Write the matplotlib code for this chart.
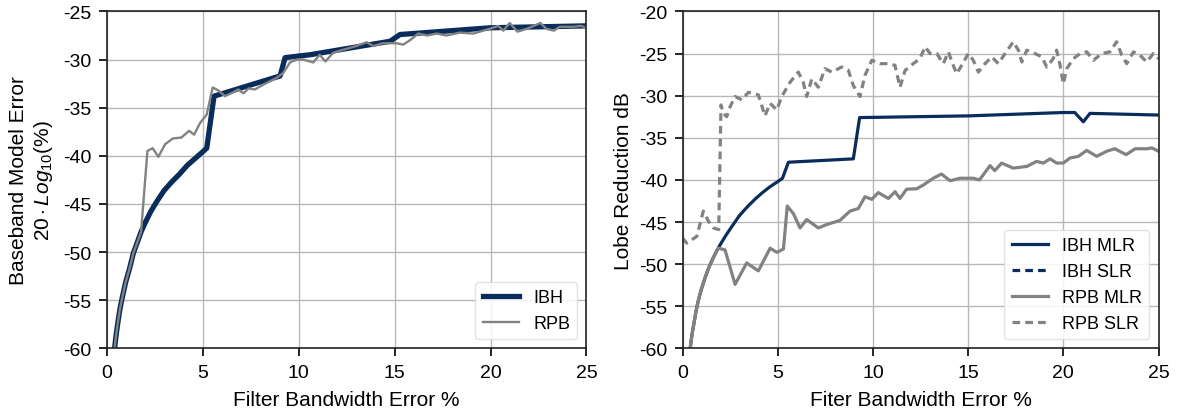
import numpy as np
import matplotlib
matplotlib.use('Agg')
import matplotlib.pyplot as plt

plt.rcParams['font.family'] = ['Liberation Sans', 'DejaVu Sans']
plt.rcParams['mathtext.fontset'] = 'custom'
plt.rcParams['mathtext.rm'] = 'Liberation Sans'
plt.rcParams['mathtext.it'] = 'Liberation Sans:italic'
plt.rcParams['axes.unicode_minus'] = False
plt.rcParams['lines.dashed_pattern'] = (2.4, 1.6)

navy = '#0a2c5a'
grey = '#828282'

# baseband model error (dB) vs filter bandwidth error (%)
ibh_x = [0.42, 0.5, 0.6, 0.7, 0.8, 0.9, 1.0, 1.2, 1.4, 1.6, 1.8, 2.0, 2.3, 2.6, 3.0, 3.4, 3.8, 4.2, 4.6, 5.0, 5.22,
         5.6, 9.04, 9.3, 10.6, 14.77, 15.29, 19.97, 25.0]
ibh_y = [-60, -58.6, -57.2, -55.9, -54.9, -54.0, -53.1, -51.7, -50.1, -49.0, -47.9, -47.0, -45.8, -44.8, -43.6,
         -42.7, -41.9, -41.0, -40.3, -39.6, -39.2, -33.8, -31.7, -29.8, -29.5, -28.1, -27.4, -26.7, -26.5]

rpb_x = [0.42, 0.5, 0.6, 0.7, 0.8, 0.9, 1.0, 1.2, 1.4, 1.6, 1.8, 2.13, 2.4, 2.7, 3.05, 3.45, 3.9, 4.3, 4.56, 4.87,
         5.22, 5.53, 5.82, 6.17, 6.6, 6.86, 7.13, 7.4, 7.73, 8.17, 8.86, 9.2, 9.56, 9.9, 10.25, 10.77, 11.1, 11.4,
         11.8, 12.3, 13.0, 13.55, 13.9, 14.4, 15.1, 15.45, 15.8, 16.24, 16.7, 17.2, 17.7, 18.4, 19.1, 19.97, 20.4,
         20.67, 21.0, 21.4, 21.9, 22.6, 22.9, 23.3, 23.6, 24.3, 24.7, 25.0]
rpb_y = [-60, -58.6, -57.2, -55.9, -54.9, -54.0, -53.1, -51.7, -50.1, -49.0, -47.9, -39.5, -39.2, -40.1, -38.8,
         -38.2, -38.1, -37.4, -37.8, -36.6, -35.7, -32.9, -33.2, -33.8, -33.4, -33.1, -33.5, -33.0, -33.1, -32.6,
         -31.9, -31.4, -30.3, -30.0, -30.0, -30.3, -29.5, -30.2, -29.3, -29.0, -28.6, -28.2, -28.6, -28.3, -28.3,
         -28.45, -28.0, -27.3, -27.5, -27.3, -27.5, -27.2, -27.3, -26.8, -26.5, -27.0, -26.2, -27.1, -26.8, -26.2,
         -26.8, -27.0, -26.6, -26.6, -26.5, -26.7]

# lobe reduction (dB)
ibh_mlr_x = [0.4, 0.5, 0.6, 0.7, 0.8, 0.9, 1.0, 1.2, 1.4, 1.6, 1.8, 2.0, 2.3, 2.6, 3.0, 3.4, 3.8, 4.2, 4.6, 5.0,
             5.25, 5.56, 8.97, 9.3, 15.0, 20.0, 20.6, 21.05, 21.4, 25.0]
ibh_mlr_y = [-60, -58.3, -57.0, -55.7, -54.6, -53.7, -52.9, -51.5, -50.3, -49.3, -48.4, -47.6, -46.5, -45.5,
             -44.2, -43.2, -42.3, -41.5, -40.8, -40.2, -39.8, -37.9, -37.5, -32.6, -32.4, -32.0, -32.0, -33.1,
             -32.1, -32.3]

# IBH has no sidelobes inside the plotted range
ibh_slr_x = []
ibh_slr_y = []

rpb_mlr_x = [0.4, 0.5, 0.6, 0.7, 0.8, 0.9, 1.0, 1.2, 1.4, 1.6, 1.88, 2.23, 2.76, 3.37, 3.98, 4.6, 4.95, 5.3, 5.5,
             5.82, 6.17, 6.52, 7.13, 7.57, 8.27, 8.8, 9.23, 9.58, 9.94, 10.28, 10.81, 11.16, 11.42, 11.77, 12.3,
             12.65, 13.17, 13.6, 14.05, 14.57, 15.27, 15.6, 16.15, 16.4, 16.76, 17.37, 18.08, 18.6, 18.95, 19.3,
             19.65, 20.0, 20.35, 20.79, 21.23, 21.75, 22.28, 22.7, 23.3, 23.77, 24.4, 24.65, 25.0]
rpb_mlr_y = [-60, -58.3, -57.0, -55.7, -54.6, -53.7, -52.9, -51.5, -50.3, -49.3, -48.1, -48.3, -52.4, -49.85,
             -50.8, -48.1, -48.6, -48.2, -43.1, -44.0, -45.7, -44.7, -45.7, -45.3, -44.8, -43.7, -43.4, -42.0,
             -42.3, -41.5, -42.2, -41.4, -42.2, -41.1, -41.05, -40.6, -39.8, -39.3, -40.1, -39.8, -39.8, -40.0,
             -38.3, -38.9, -38.0, -38.6, -38.4, -37.8, -38.0, -37.5, -38.0, -38.0, -37.4, -37.2, -36.5, -37.2,
             -36.6, -36.3, -37.0, -36.3, -36.3, -36.2, -36.6]

rpb_slr_x = [0.0, 0.22, 0.75, 1.09, 1.36, 1.62, 1.9, 2.02, 2.14, 2.32, 2.5, 2.76, 3.11, 3.46, 3.98, 4.33, 4.6,
             4.95, 5.21, 5.65, 6.08, 6.34, 6.52, 6.79, 7.13, 7.48, 7.84, 8.36, 8.71, 8.97, 9.32, 9.58, 9.94, 10.37,
             10.81, 11.16, 11.42, 11.69, 12.12, 12.47, 12.74, 13.0, 13.35, 13.7, 13.96, 14.22, 14.4, 14.66, 15.01,
             15.27, 15.54, 15.89, 16.24, 16.59, 16.94, 17.37, 17.64, 17.82, 18.08, 18.51, 18.87, 19.13, 19.47,
             19.65, 19.83, 20.0, 20.18, 20.53, 20.88, 21.23, 21.58, 22.02, 22.45, 22.8, 23.07, 23.33, 23.68, 24.03,
             24.38, 24.73, 25.0]
rpb_slr_y = [-46.9, -47.5, -46.7, -43.7, -44.9, -45.7, -45.9, -31.1, -32.1, -32.5, -31.3, -30.1, -30.5, -29.6,
             -29.9, -32.4, -30.9, -31.7, -30.1, -28.4, -27.2, -28.4, -30.1, -28.0, -29.0, -26.8, -27.2, -26.6,
             -27.0, -28.8, -30.1, -27.6, -25.8, -26.2, -26.2, -26.4, -29.0, -27.0, -26.2, -25.6, -24.2, -25.0,
             -25.0, -26.2, -24.8, -26.4, -27.4, -26.4, -25.0, -25.8, -27.2, -26.2, -25.4, -26.2, -25.0, -23.6,
             -24.6, -26.0, -24.6, -25.0, -25.4, -26.6, -25.6, -24.6, -26.4, -28.6, -26.8, -25.6, -25.0, -24.8,
             -25.8, -25.0, -24.8, -23.6, -25.2, -26.2, -24.8, -25.2, -26.0, -25.0, -25.6]

fig = plt.figure(figsize=(11.77, 4.14), dpi=100)
ax1 = fig.add_axes([0.0905, 0.156, 0.4078, 0.814])
ax2 = fig.add_axes([0.5799, 0.156, 0.4044, 0.814])

ax1.plot(ibh_x, ibh_y, '-', color=navy, lw=3.8, label='IBH')
ax1.plot(rpb_x, rpb_y, '-', color=grey, lw=1.7, label='RPB')
ax1.set_ylim(-60, -25)
ax1.set_yticks(np.arange(-60, -24, 5))
ax1.set_xlabel('Filter Bandwidth Error %', labelpad=7)
ax1.set_ylabel('Baseband Model Error\n$20 \\cdot Log_{10}(\\%)$', labelpad=6)

ax2.plot(ibh_mlr_x, ibh_mlr_y, '-', color=navy, lw=2.3, label='IBH MLR')
ax2.plot(ibh_slr_x, ibh_slr_y, '--', color=navy, lw=2.3, label='IBH SLR')
ax2.plot(rpb_mlr_x, rpb_mlr_y, '-', color=grey, lw=2.3, label='RPB MLR')
ax2.plot(rpb_slr_x, rpb_slr_y, '--', color=grey, lw=2.3, label='RPB SLR')
ax2.set_ylim(-60, -20)
ax2.set_yticks(np.arange(-60, -19, 5))
ax2.set_xlabel('Fiter Bandwidth Error %', labelpad=7)
ax2.set_ylabel('Lobe Reduction dB', labelpad=4)

for ax in (ax1, ax2):
    ax.set_xlim(0, 25)
    ax.set_xticks([0, 5, 10, 15, 20, 25])
    ax.grid(True, color='#b8b8b8', lw=1.0)
    ax.set_axisbelow(True)
    ax.tick_params(labelsize=14, length=6, width=1.2, pad=5, direction='out')
    ax.xaxis.label.set_size(15)
    ax.yaxis.label.set_size(15)
    for s in ax.spines.values():
        s.set_color('#222222')
        s.set_linewidth(1.2)
    ax.legend(loc='lower right', fontsize=13, framealpha=0.85, edgecolor='#dddddd')

fig.savefig('out.png', dpi=100)
